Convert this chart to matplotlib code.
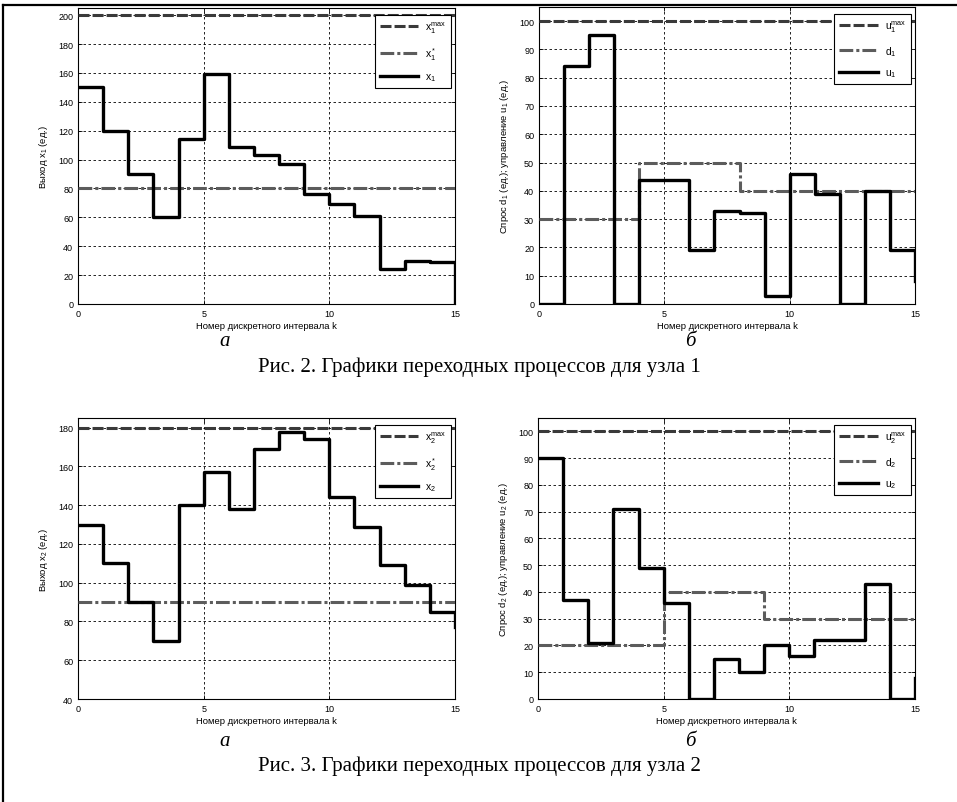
import numpy as np
import matplotlib
matplotlib.use("Agg")
import matplotlib.pyplot as plt
from matplotlib.lines import Line2D

plt.rcParams['font.family'] = ['Liberation Sans', 'DejaVu Sans']
plt.rcParams['mathtext.default'] = 'regular'

# discrete intervals
k = np.arange(16)

# node 1
x1 = [150, 120, 90, 60, 114, 159, 109, 103, 97, 76, 69, 61, 24, 30, 29, 0]
x1_max = 200
x1_ref = 80
u1 = [0, 84, 95, 0, 44, 44, 19, 33, 32, 3, 46, 39, 0, 40, 19, 8]
d1 = [30, 30, 30, 30, 50, 50, 50, 50, 40, 40, 40, 40, 40, 40, 40, 40]
u1_max = 100

# node 2
x2 = [130, 110, 90, 70, 140, 157, 138, 169, 178, 174, 144, 129, 109, 99, 85, 77]
x2_max = 180
x2_ref = 90
u2 = [90, 37, 21, 71, 49, 36, 0, 15, 10, 20, 16, 22, 22, 43, 0, 8]
d2 = [20, 20, 20, 20, 20, 40, 40, 40, 40, 30, 30, 30, 30, 30, 30, 30]
u2_max = 100

W, H = 957, 803
fig = plt.figure(figsize=(W / 100, H / 100), dpi=100)

DASH = (0, (3.6, 1.0))
DASHDOT = (0, (4.5, 1.0, 1.0, 1.0))
C_DASH = '#3a3a3a'
C_DOT = '#5c5c5c'


def px_axes(left, top, right, bottom):
    return fig.add_axes([left / W, 1 - bottom / H, (right - left) / W, (bottom - top) / H])


def setup(ax, ylim, yticks, ylabel):
    ax.set_xlim(0, 15)
    ax.set_ylim(*ylim)
    ax.set_xticks([0, 5, 10, 15])
    ax.set_yticks(yticks)
    ax.tick_params(direction='in', length=3, width=0.6, labelsize=6.5,
                   top=True, right=True, pad=3.5)
    ax.grid(True, linestyle=(0, (3, 3)), color='k', linewidth=0.6)
    for s in ax.spines.values():
        s.set_linewidth(0.8)
    ax.set_xlabel('Номер дискретного интервала k', fontsize=6.8, labelpad=2)
    ax.set_ylabel(ylabel, fontsize=6.8, labelpad=6)


def legend(ax, labels):
    w = ax.get_position().width * W
    h = ax.get_position().height * H
    leg = ax.legend(labels, loc='upper right',
                    bbox_to_anchor=(1 - 4 / w, 1 - 7 / h), borderaxespad=0,
                    fontsize=7.5, handlelength=3.7, handletextpad=0.7,
                    labelspacing=0.95, borderpad=0.45,
                    fancybox=False, framealpha=1, edgecolor='k')
    leg.get_frame().set_linewidth(0.8)


def draw(ax, lim_val, ref, main, lim_lbl, ref_lbl, main_lbl):
    ax.plot([0, 15], [lim_val, lim_val], linestyle=DASH, color=C_DASH, lw=2.2, zorder=3)
    if np.isscalar(ref):
        ax.plot([0, 15], [ref, ref], linestyle=DASHDOT, color=C_DOT, lw=2.2, zorder=3)
    else:
        ax.step(k, ref, where='post', linestyle=DASHDOT, color=C_DOT, lw=2.2, zorder=3)
    ax.step(k, main, where='post', color='k', lw=2.4, zorder=4)
    legend(ax, [lim_lbl, ref_lbl, main_lbl])


ax1 = px_axes(78, 9, 455, 305)
draw(ax1, x1_max, x1_ref, x1, r'x$_1^{max}$', r'x$_1^*$', r'x$_1$')
setup(ax1, (0, 205), np.arange(0, 201, 20), r'Выход x$_1$ (ед.)')

ax2 = px_axes(539, 8, 915, 305)
draw(ax2, u1_max, d1, u1, r'u$_1^{max}$', r'd$_1$', r'u$_1$')
setup(ax2, (0, 105), np.arange(0, 101, 10), r'Спрос d$_1$ (ед.); управление u$_1$ (ед.)')

ax3 = px_axes(78, 419, 455, 700)
draw(ax3, x2_max, x2_ref, x2, r'x$_2^{max}$', r'x$_2^*$', r'x$_2$')
setup(ax3, (40, 185), np.arange(40, 181, 20), r'Выход x$_2$ (ед.)')

ax4 = px_axes(538, 419, 915, 700)
draw(ax4, u2_max, d2, u2, r'u$_2^{max}$', r'd$_2$', r'u$_2$')
setup(ax4, (0, 105), np.arange(0, 101, 10), r'Спрос d$_2$ (ед.); управление u$_2$ (ед.)')

# captions
serif = ['Liberation Serif', 'DejaVu Serif']
for y_sub, y_cap, cap in [(346, 367, 'Рис. 2. Графики переходных процессов для узла 1'),
                          (746, 766, 'Рис. 3. Графики переходных процессов для узла 2')]:
    fig.text(225 / W, 1 - y_sub / H, 'а', family=serif, style='italic',
             fontsize=15, ha='center', va='baseline')
    fig.text(690 / W, 1 - y_sub / H, 'б', family=serif, style='italic',
             fontsize=15, ha='center', va='baseline')
    fig.text(479 / W, 1 - y_cap / H, cap, family=serif, fontsize=15,
             ha='center', va='center')

# page frame
fig.add_artist(Line2D([3 / W, 1], [1 - 6 / H, 1 - 6 / H], color='k', lw=1.6))
fig.add_artist(Line2D([3 / W, 3 / W], [0, 1 - 6 / H], color='k', lw=1.6))

fig.savefig('out.png', dpi=100)
